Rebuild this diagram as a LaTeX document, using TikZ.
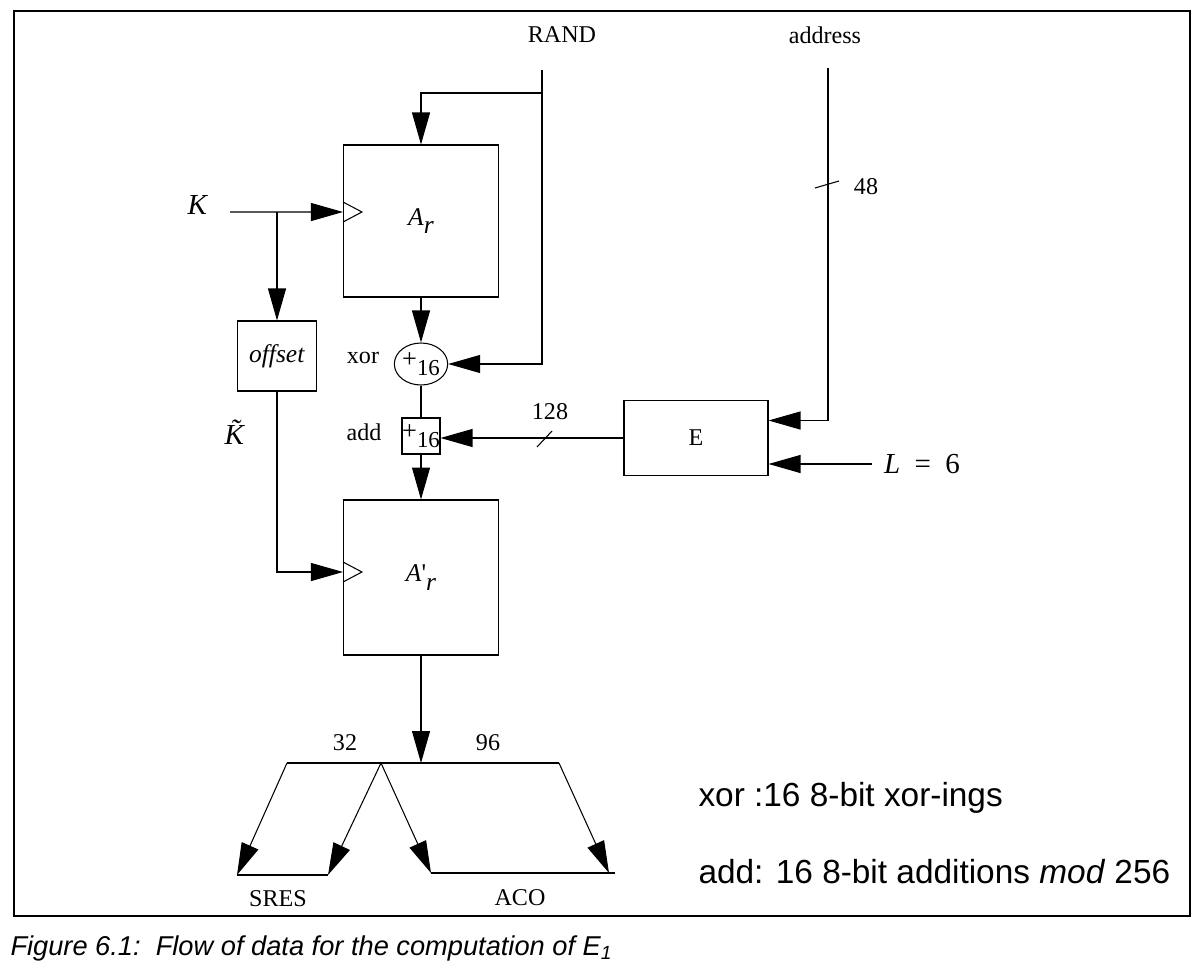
\documentclass[tikz,border=0pt]{standalone}
\usepackage{fontspec}
\setmainfont{Liberation Serif}
\newfontfamily\notefont{Liberation Sans}
\usetikzlibrary{arrows.meta,shapes}

\begin{document}
\begin{tikzpicture}[
  x=0.02cm, y=-0.02cm, line width=0.6pt,
  font=\fontsize{13.7}{16}\selectfont,
  blk/.style={draw, minimum width=3.1cm, minimum height=3.04cm, inner sep=0pt, font=\fontsize{14.5}{16}\selectfont},
  unit/.style={draw, inner sep=0pt, font=\fontsize{13}{15}\selectfont},
  big/.style={font=\fontsize{16.5}{18}\selectfont},
  note/.style={anchor=west, inner sep=0pt, font=\notefont\fontsize{19}{22}\selectfont},
  flow/.style={draw, -{Triangle[length=0.64cm, width=0.36cm]}}
]
\useasboundingbox (0,0) rectangle (1203,970);
\draw[line width=0.7pt] (14,11) rectangle (1190,916);

\node (rand) at (562,35) {RAND};
\node (addr) at (825,35) {address};
\node[big] (K) at (198,205) {\textit{K}};
\node[big] (Kt) at (240,432) {\textit{\~{K}}};

\node[blk] (Ar) at (421,221) {\textit{A}\raisebox{-0.7ex}{\textit{r}}};
\node[blk, minimum height=3.1cm] (ArB) at (421,577.5) {\textit{A}\textquotesingle\raisebox{-0.7ex}{\textit{r}}};
\node[draw, minimum width=1.58cm, minimum height=1.4cm, inner sep=0pt, font=\fontsize{14.5}{16}\selectfont] (offset) at (277,356) {\textit{offset}};
\node[unit, ellipse, minimum width=0.92cm, minimum height=0.84cm] (xor) at (421,364) {{\fontsize{15}{15}\selectfont+}\raisebox{-0.7ex}{16}};
\node[unit, minimum width=0.76cm, minimum height=0.72cm] (add) at (421,436) {{\fontsize{15}{15}\selectfont+}\raisebox{-0.7ex}{16}};
\node[draw, minimum width=2.88cm, minimum height=1.5cm] (E) at (696,438) {E};
\node (xorlbl) at (363,358) {xor};
\node (addlbl) at (364,432) {add};
\node[big] (L) at (922,464) {\textit{L}\ \ =\ \ 6};

\coordinate (randin) at (542,70);
\coordinate (randtap) at (542,93);
\coordinate (kin) at (230,212);
\coordinate (ktap) at (277,212);
\coordinate (addrin) at (828,68);
\coordinate (lin) at (872,464);
\coordinate (arclk) at ([yshift=0.18cm]Ar.west);
\coordinate (abclk) at ([yshift=0.11cm]ArB.west);

\draw[flow] (randin) |- (xor.east);
\draw[flow] (randtap) -| (Ar.north);
\draw[flow] (kin) -- (arclk);
\draw[flow] (ktap) -- (offset.north);
\draw[flow] (offset.south) |- (abclk);
\draw (arclk) ++(0,-10) -- ++(19,10) -- ++(-19,10);
\draw (abclk) ++(0,-10) -- ++(19,10) -- ++(-19,10);
\draw[flow] (Ar.south) -- (xor.north);
\draw (xor.south) -- (add.north);
\draw[flow] (add.south) -- (ArB.north);
\draw[flow] (E.west) -- (E.west -| add.east);
\draw (537,447) -- (552,431);
\node at (550,412) {128};
\draw[flow] (addrin) |- ([yshift=0.35cm]E.east);
\draw (815,188) -- (839,181);
\node at (866,187) {48};
\draw[flow] (lin) -- (lin -| E.east);

\coordinate (split) at (421,763);
\coordinate (busL) at (287,763);
\coordinate (busM) at (381,763);
\coordinate (busR) at (559,763);
\coordinate (sresL) at (237,875);
\coordinate (sresR) at (328,875);
\coordinate (acoL) at (431,873);
\coordinate (acoR) at (609,873);
\coordinate (acoE) at (615,873);
\draw[flow] (ArB.south) -- (split);
\draw (busL) -- (busR);
\draw[flow] (busL) -- (sresL);
\draw[flow] (busM) -- (sresR);
\draw[flow] (busM) -- (acoL);
\draw[flow] (busR) -- (acoR);
\draw (sresL) -- (sresR);
\draw (acoL) -- (acoE);
\node at (345,743) {32};
\node at (488,743) {96};
\node (sres) at (278,899) {SRES};
\node (aco) at (520,898) {ACO};

\node[note] at (698,798) {xor :16 8-bit xor-ings};
\node[note] at (698,872) {add: 16 8-bit additions \textit{mod} 256};
\node[anchor=west, inner sep=0pt, font=\notefont\itshape\fontsize{15.5}{18}\selectfont] at (10,948)
  {Figure 6.1:\ \ Flow of data for the computation of E\textsubscript{1}};
\end{tikzpicture}
\end{document}
